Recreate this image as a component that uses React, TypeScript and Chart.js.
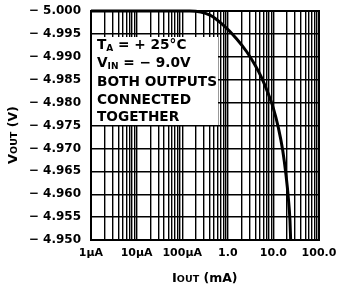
import React, { useEffect, useRef } from "react";
import { Chart, registerables } from "chart.js";

Chart.register(...registerables);

// Data (I_OUT in mA, V_OUT in V)
const ioutMA = [0.001, 0.01, 0.1, 0.148, 0.407, 0.797, 1.57, 2.6, 3.95, 5.54, 7.73, 9.95, 12.8, 16.0, 18.9, 21.2, 23.1, 23.9];
const voutV = [-5.0, -5.0, -5.0, -5.0, -4.9991, -4.9969, -4.9939, -4.9911, -4.9882, -4.9854, -4.9819, -4.9788, -4.9746, -4.9696, -4.9642, -4.9593, -4.9542, -4.95];

const xLabelValues = [0.001, 0.01, 0.1, 1, 10, 100];
const xLabelTexts = ["1µA", "10µA", "100µA", "1.0", "10.0", "100.0"];
const xGridMultipliers = [1, 2, 3, 4, 5, 6, 7, 8, 9];
const xGridDecades = [-3, -2, -1, 0, 1];

const yMin = -5.0;
const yMax = -4.95;
const yStep = 0.005;

const noteLines = ["BOTH OUTPUTS", "CONNECTED", "TOGETHER"];

const FONT = "'DejaVu Sans', sans-serif";

function drawPieces(
  ctx: CanvasRenderingContext2D,
  x: number,
  y: number,
  pieces: { t: string; size: number; dy?: number }[]
) {
  let cx = x;
  for (const p of pieces) {
    ctx.font = `bold ${p.size}px ${FONT}`;
    ctx.fillText(p.t, cx, y + (p.dy || 0));
    cx += ctx.measureText(p.t).width;
  }
  return cx;
}

const decorPlugin = {
  id: "decor",
  beforeDatasetsDraw(chart: any) {
    const ctx = chart.ctx as CanvasRenderingContext2D;
    const ca = chart.chartArea;
    ctx.save();
    ctx.fillStyle = "#fff";
    ctx.fillRect(ca.left + 1, 37, 126, 88);
    ctx.fillStyle = "#000";
    ctx.textBaseline = "alphabetic";
    ctx.textAlign = "left";
    const x0 = ca.left + 6;
    const big = 13.7;
    drawPieces(ctx, x0, 49, [
      { t: "T", size: big },
      { t: "A", size: 9, dy: 2 },
      { t: " = + 25°C", size: big },
    ]);
    drawPieces(ctx, x0, 67, [
      { t: "V", size: big },
      { t: "IN", size: 9, dy: 2 },
      { t: " = − 9.0V", size: big },
    ]);
    const ys = [86, 104, 121];
    noteLines.forEach((t, i) => {
      drawPieces(ctx, x0, ys[i], [{ t, size: big }]);
    });
    ctx.restore();
  },
  afterDraw(chart: any) {
    const ctx = chart.ctx as CanvasRenderingContext2D;
    const ca = chart.chartArea;
    ctx.save();
    ctx.strokeStyle = "#000";
    ctx.lineWidth = 2;
    ctx.strokeRect(ca.left, ca.top, ca.right - ca.left, ca.bottom - ca.top);
    ctx.fillStyle = "#000";
    ctx.textBaseline = "alphabetic";
    drawPieces(ctx, 172, 282, [
      { t: "I", size: 13 },
      { t: "OUT", size: 9.5 },
      { t: " (mA)", size: 12.5 },
    ]);
    ctx.translate(12, 164);
    ctx.rotate(-Math.PI / 2);
    drawPieces(ctx, 0, 5, [
      { t: "V", size: 13 },
      { t: "OUT", size: 9.5 },
      { t: " (V)", size: 12.5 },
    ]);
    ctx.restore();
  },
};

export default function App() {
  const ref = useRef<HTMLCanvasElement | null>(null);
  useEffect(() => {
    if (!ref.current) return;
    const gridTicks: number[] = [];
    xGridDecades.forEach((e) =>
      xGridMultipliers.forEach((m) => gridTicks.push(Number((m * Math.pow(10, e)).toPrecision(3))))
    );
    gridTicks.push(100);
    const chart = new Chart(ref.current, {
      type: "line",
      data: {
        datasets: [
          {
            data: ioutMA.map((x, i) => ({ x, y: voutV[i] })),
            borderColor: "#000",
            borderWidth: 3,
            pointRadius: 0,
            cubicInterpolationMode: "monotone",
            fill: false,
            clip: 4,
          } as any,
        ],
      },
      options: {
        animation: false,
        responsive: false,
        events: [],
        layout: { padding: { left: 0, right: 19, top: 11, bottom: 0 } },
        plugins: { legend: { display: false }, tooltip: { enabled: false } },
        scales: {
          x: {
            type: "logarithmic",
            min: 0.001,
            max: 100,
            afterFit(scale: any) {
              scale.height = 51;
              scale.paddingLeft = 0;
              scale.paddingRight = 0;
            },
            afterBuildTicks(scale: any) {
              scale.ticks = gridTicks.map((v) => ({ value: v }));
            },
            grid: { color: "#000", lineWidth: 1.4, drawTicks: false },
            border: { color: "#000", width: 2 },
            ticks: {
              autoSkip: false,
              maxRotation: 0,
              padding: 7,
              color: "#000",
              font: { family: FONT, size: 11, weight: "bold" },
              callback(value: any) {
                const v = Number(value);
                const i = xLabelValues.findIndex((t) => Math.abs(Math.log10(t) - Math.log10(v)) < 1e-6);
                return i >= 0 ? xLabelTexts[i] : "";
              },
            },
          } as any,
          y: {
            type: "linear",
            min: yMin,
            max: yMax,
            reverse: true,
            afterFit(scale: any) {
              scale.width = 91;
              scale.paddingTop = 0;
              scale.paddingBottom = 0;
            },
            grid: { color: "#000", lineWidth: 1.4, drawTicks: false },
            border: { color: "#000", width: 2 },
            ticks: {
              stepSize: yStep,
              padding: 10,
              color: "#000",
              font: { family: FONT, size: 12, weight: "bold" },
              callback(value: any) {
                return "− " + Math.abs(Number(value)).toFixed(3);
              },
            },
          } as any,
        },
      },
      plugins: [decorPlugin],
    });
    return () => chart.destroy();
  }, []);
  return (
    <div style={{ position: "fixed", left: 0, top: 0, width: 338, height: 291, background: "#fff" }}>
      <canvas ref={ref} width={338} height={291} style={{ display: "block" }} />
    </div>
  );
}
